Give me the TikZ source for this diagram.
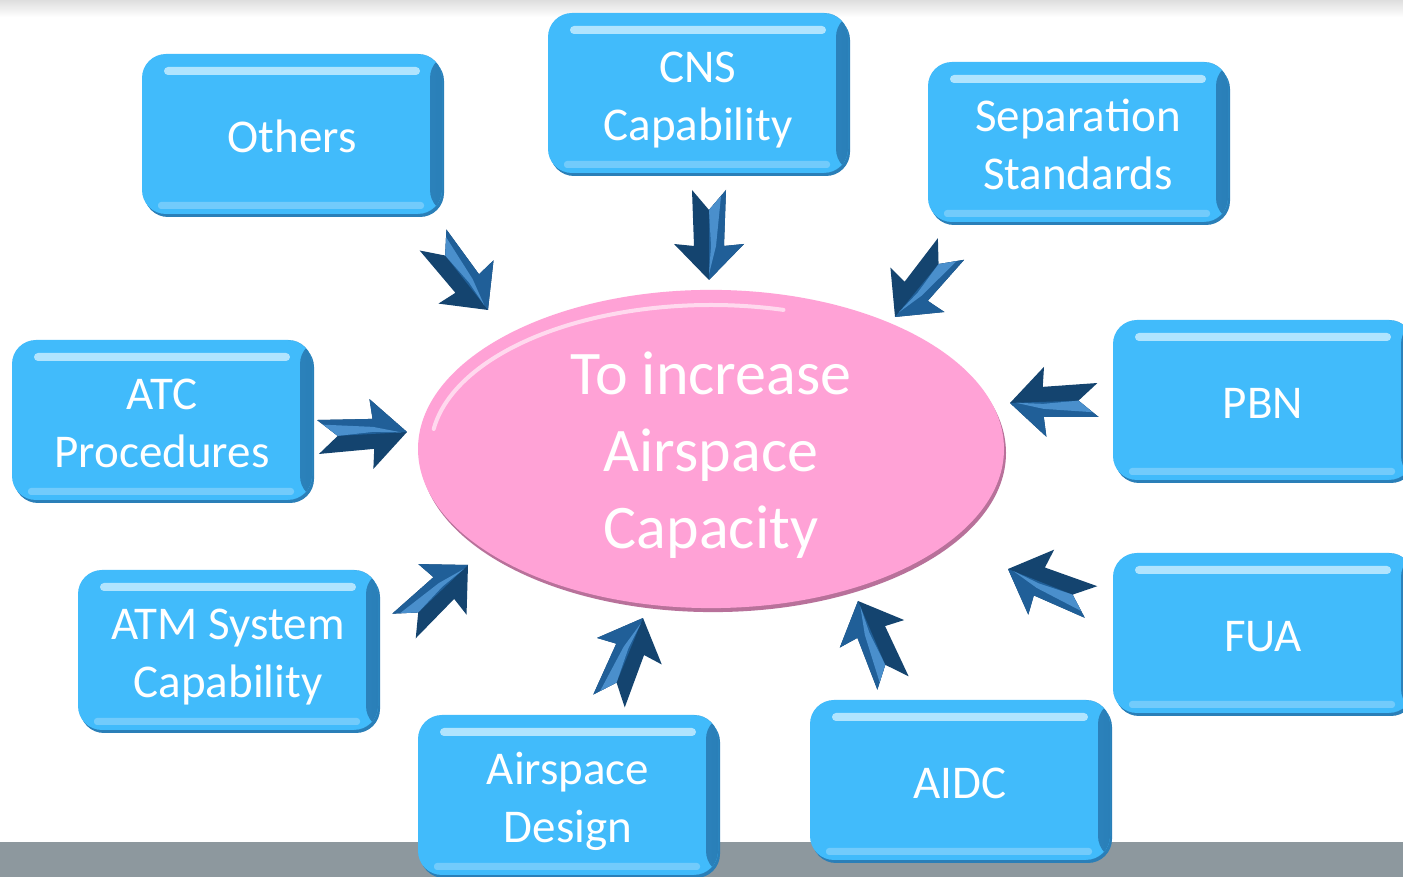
\documentclass[tikz,border=0pt]{standalone}
\usepackage{fontspec}
\setmainfont{Carlito}
\usetikzlibrary{shapes.geometric,shadows,calc}
\definecolor{boxblue}{HTML}{41BBFB}
\definecolor{boxedge}{HTML}{2A7FB8}
\definecolor{boxlite}{HTML}{7FD0FC}
\definecolor{boxhi}{HTML}{C4ECFF}
\definecolor{pinkfill}{HTML}{FFA2D6}
\definecolor{pinkedge}{HTML}{B8719A}
\definecolor{arrdark}{HTML}{14446F}
\definecolor{arrmid}{HTML}{205F98}
\definecolor{arrlite}{HTML}{4A8FCC}
\definecolor{bandgrey}{HTML}{8D989E}
\newcommand\boxfont{\fontsize{47}{58}\selectfont}
\newcommand\ellfont{\fontsize{62}{77}\selectfont}
\newcommand\boxup{\rule{0pt}{47pt}}
\newcommand\ellup{\rule{0pt}{58pt}}
\tikzset{
  box/.style={rectangle, rounded corners=24pt, fill=boxblue,
    minimum width=300pt, minimum height=160pt, inner sep=0pt,
    text=white, font=\boxfont, align=center,
    execute at end node={\rule[-10pt]{0pt}{1pt}},
    drop shadow={shadow xshift=2pt, shadow yshift=-3pt, fill=boxedge, opacity=1},
    path picture={
      \shade[left color=boxblue, right color=boxedge]
        ($(path picture bounding box.north east)+(-12pt,0)$) rectangle (path picture bounding box.south east);
      \fill[boxhi, opacity=0.85, rounded corners=4pt]
        ($(path picture bounding box.north west)+(22pt,-13pt)$) rectangle
        ($(path picture bounding box.north east)+(-22pt,-21pt)$);
      \fill[boxlite, opacity=0.8, rounded corners=3pt]
        ($(path picture bounding box.south west)+(16pt,5pt)$) rectangle
        ($(path picture bounding box.south east)+(-18pt,12pt)$);
    }},
  goalnode/.style={ellipse, fill=pinkfill, minimum width=586pt, minimum height=312pt,
    inner sep=0pt, text=white, font=\ellfont, align=center,
    execute at end node={\rule[-13pt]{0pt}{1pt}},
    drop shadow={shadow xshift=2pt, shadow yshift=-4pt, fill=pinkedge, opacity=1}},
  barrow/.pic={
    \fill[arrdark] (0,17) -- (56,15) -- (54,35) -- (90,0) -- (54,-35) -- (56,-15) -- (0,-17) -- (20,0) -- cycle;
    \fill[arrmid] (0,17) -- (56,15) -- (54,35) -- (90,0) -- (20,0) -- cycle;
    \fill[arrlite] (20,0) -- (6,12) -- (56,7) -- (84,0) -- (56,2) -- cycle;
  }
}
\newcommand\blockarrow[2]{%
  \path let \p1=(#1), \p2=(#2), \n1={atan2(\y2-\y1,\x2-\x1)},
    \n2={veclen(\x2-\x1,\y2-\y1)/90} in pic[rotate=\n1, xscale=\n2] at (\p1) {barrow};}
\begin{document}
\begin{tikzpicture}[x=1pt,y=1pt]
\useasboundingbox (0,0) rectangle (1403,877);
\clip (0,0) rectangle (1403,877);
\fill[white] (0,0) rectangle (1403,877);
\shade[top color=black!13, bottom color=white] (0,860) rectangle (1403,877);
\fill[bandgrey] (0,0) rectangle (1403,35);

\node[box] (others) at (292,743) {\boxup Others};
\node[box] (cns) at (698,784) {\boxup CNS\\Capability};
\node[box] (sep) at (1078,735) {\boxup Separation\\Standards};
\node[box] (pbn) at (1263,477) {\boxup PBN};
\node[box] (fua) at (1263,244) {\boxup FUA};
\node[box] (aidc) at (960,97) {\boxup AIDC};
\node[box] (design) at (568,82) {\boxup Airspace\\Design};
\node[box] (atm) at (228,227) {\boxup ATM System\\Capability};
\node[box] (atc) at (162,457) {\boxup ATC\\Procedures};

\node[goalnode] (goal) at (711,428) {\ellup To increase\\Airspace\\Capacity};
\draw[white, opacity=0.6, line width=4pt, line cap=round]
  ($(goal.center)+(172:280pt and 144pt)$) arc[start angle=172, end angle=75, x radius=280pt, y radius=144pt];

\coordinate (a1) at (433,637); \coordinate (b1) at (488,567);
\coordinate (a2) at (709,687); \coordinate (b2) at (709,597);
\coordinate (a3) at (951,628); \coordinate (b3) at (895,560);
\coordinate (a4) at (1098,477); \coordinate (b4) at (1010,474);
\coordinate (a5) at (1091,275); \coordinate (b5) at (1008,308);
\coordinate (a6) at (893,194); \coordinate (b6) at (858,276);
\coordinate (a7) at (609,176); \coordinate (b7) at (643,259);
\coordinate (a8) at (404,251); \coordinate (b8) at (468,312);
\coordinate (a9) at (318,440); \coordinate (b9) at (407,445);
\blockarrow{a1}{b1}
\blockarrow{a2}{b2}
\blockarrow{a3}{b3}
\blockarrow{a4}{b4}
\blockarrow{a5}{b5}
\blockarrow{a6}{b6}
\blockarrow{a7}{b7}
\blockarrow{a8}{b8}
\blockarrow{a9}{b9}
\end{tikzpicture}
\end{document}
